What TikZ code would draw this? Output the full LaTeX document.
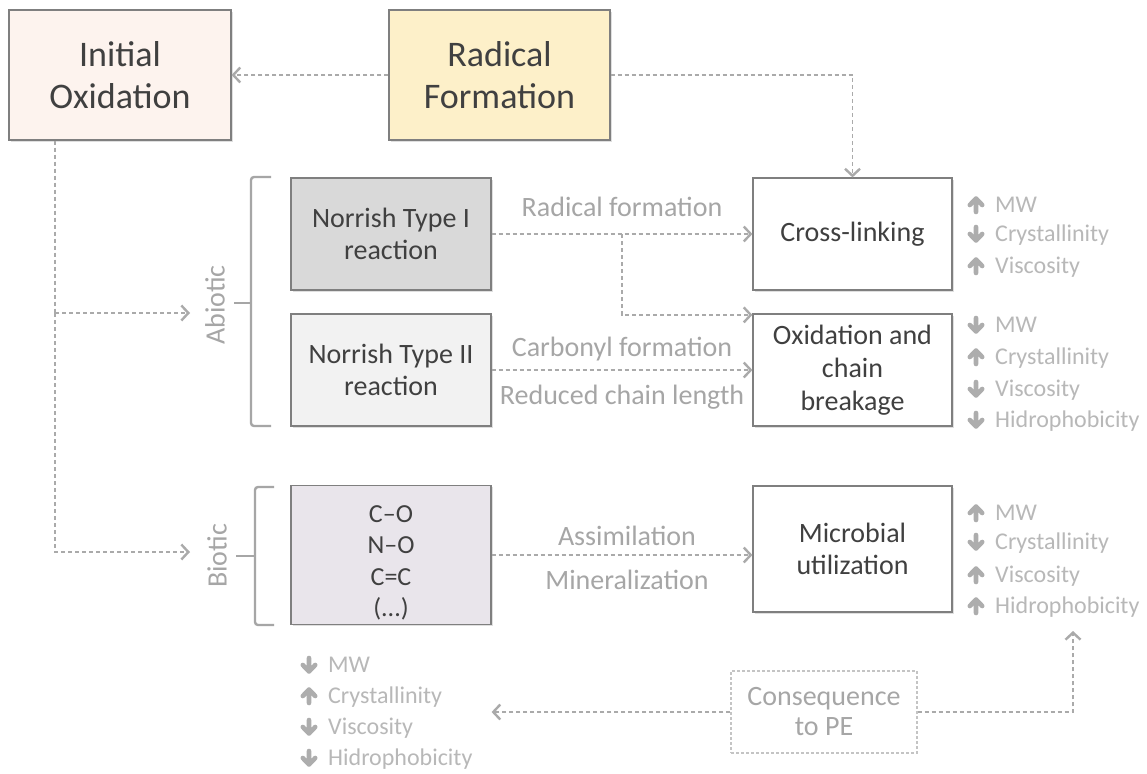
\documentclass[tikz,border=0pt]{standalone}
\usepackage{fontspec}
\setmainfont{Carlito}
\usetikzlibrary{arrows.meta,shadows}

\definecolor{boxline}{HTML}{7F7F7F}
\definecolor{boxtext}{HTML}{404040}
\definecolor{linkgray}{HTML}{AAAAAA}
\definecolor{labelgray}{HTML}{A6A6A6}
\definecolor{propgray}{HTML}{B8B8B8}
\definecolor{arrgray}{HTML}{ADADAD}
\definecolor{conseqline}{HTML}{C4C4C4}
\definecolor{oxfill}{HTML}{FDF3EE}
\definecolor{radfill}{HTML}{FDF0C9}
\definecolor{nIfill}{HTML}{D9D9D9}
\definecolor{nIIfill}{HTML}{F2F2F2}
\definecolor{biofill}{HTML}{E9E5EB}

\tikzset{
  box/.style={draw=boxline, line width=1.2pt, text=boxtext, align=center,
    inner sep=0pt, font=\fontsize{28}{32}\selectfont,
    drop shadow={shadow xshift=1.8pt, shadow yshift=-1.8pt, opacity=0.25}},
  bigbox/.style={box, font=\fontsize{36}{42}\selectfont},
  link/.style={draw=linkgray, line width=1.3pt, dash pattern=on 4pt off 3pt,
    -{Straight Barb[length=7pt, width=15pt, line width=2.4pt]}},
  linkline/.style={draw=linkgray, line width=1.3pt, dash pattern=on 4pt off 3pt},
  lbl/.style={text=labelgray, font=\fontsize{28}{32}\selectfont, inner sep=0pt},
  brace/.style={draw=labelgray, line width=2.4pt, rounded corners=3pt},
  prop/.style={anchor=west, inner sep=0pt, text=propgray,
    font=\fontsize{24}{28}\selectfont, text height=15.5pt, text depth=0pt},
  uparr/.pic={\draw[arrgray, line width=4.6pt, line cap=round, line join=round]
    (0,7) -- (0,-5) (-6.2,0) -- (0,-6.5) -- (6.2,0);},
  dnarr/.pic={\draw[arrgray, line width=4.6pt, line cap=round, line join=round]
    (0,-7) -- (0,5) (-6.2,0) -- (0,6.5) -- (6.2,0);},
}

% one line of a property list: name, arrow x, text x, y, arrow pic, text
\newcommand\propline[6]{%
  \pic at (#2,#4) {#5};
  \node[prop] (#1) at (#3,#4) {#6};}

\begin{document}
\begin{tikzpicture}[x=1pt, y=-1pt]
  \fill[white] (0,0) rectangle (1147,773);
  \useasboundingbox (0,0) rectangle (1147,773);

  % top row
  \node[bigbox, fill=oxfill, minimum width=222pt, minimum height=130pt]
    (init) at (120,75) {Initial\\Oxidation};
  \node[bigbox, fill=radfill, minimum width=221pt, minimum height=130pt]
    (rad) at (499.5,75) {Radical\\Formation};

  % reaction boxes
  \node[box, fill=nIfill, minimum width=200pt, minimum height=112pt]
    (n1) at (391,234) {Norrish Type I\\reaction};
  \node[box, fill=nIIfill, minimum width=200pt, minimum height=112pt]
    (n2) at (391,370) {Norrish Type II\\reaction};
  \node[box, fill=biofill, minimum width=200pt, minimum height=139pt,
    font=\fontsize{26}{31.5}\selectfont]
    (bio) at (391,555) {\rule{0pt}{33pt}C--O\\N--O\\C=C\\(...)};

  % result boxes
  \node[box, fill=white, minimum width=199pt, minimum height=112pt]
    (cross) at (852.5,234) {Cross-linking};
  \node[box, fill=white, minimum width=199pt, minimum height=112pt,
    font=\fontsize{28}{33}\selectfont]
    (ox) at (852.5,370) {Oxidation and\\chain\\breakage};
  \node[box, fill=white, minimum width=199pt, minimum height=126pt]
    (mic) at (852.5,549) {Microbial\\utilization};

  % consequence box
  \node[draw=conseqline, line width=1.2pt, dash pattern=on 3pt off 2pt,
    text=labelgray, align=center, inner sep=0pt,
    font=\fontsize{28}{30}\selectfont,
    minimum width=186pt, minimum height=82pt]
    (cons) at (824,712) {Consequence\\to PE};

  % group labels and braces
  \node[lbl, rotate=90] (abiotic) at (215,305) {Abiotic};
  \node[lbl, rotate=90] (biotic) at (217,556) {Biotic};
  \draw[brace] (271,177) -- (251,177) -- (251,426) -- (271,426);
  \draw[brace] (251,303) -- (234,303);
  \draw[brace] (274,487) -- (255,487) -- (255,625) -- (274,625);
  \draw[brace] (255,556) -- (236,556);

  % connectors
  \coordinate (abin) at (190,313);
  \coordinate (bioin) at (190,552);
  \coordinate (micprop) at (1073,631);
  \coordinate (split) at (55,313);

  \draw[link] (rad.west) -- (init.east);
  \draw[link] (rad.east) -| (cross.north);
  \draw[linkline] ([xshift=-65pt]init.south) -- (split);
  \draw[link] (split) -- (abin);
  \draw[link] (split) |- (bioin);

  \draw[link] (n1.east) -- coordinate[pos=0.5] (mid1) (cross.west);
  \draw[link] (mid1) |- ([yshift=-1.5pt]ox.north west);
  \draw[link] (n2.east) -- (ox.west);
  \draw[link] (bio.east) -- (bio.east -| mic.west);
  \draw[link] (cons.west) -- (cons.west -| bio.east);
  \draw[link] (cons.east) -| (micprop);

  % connector labels
  \node[lbl] (l1) at (622,207) {Radical formation};
  \node[lbl] (l2) at (622,349) {Carbonyl formation};
  \node[lbl] (l3) at (622,397) {Reduced chain length};
  \node[lbl] (l4) at (627,536) {Assimilation};
  \node[lbl] (l5) at (627,580) {Mineralization};

  % property lists
  \propline{p1}{976}{995}{205}{uparr}{MW}
  \propline{p2}{976}{995}{234}{dnarr}{Crystallinity}
  \propline{p3}{976}{995}{266}{uparr}{Viscosity}

  \propline{p4}{976}{995}{325}{dnarr}{MW}
  \propline{p5}{976}{995}{357}{uparr}{Crystallinity}
  \propline{p6}{976}{995}{389}{dnarr}{Viscosity}
  \propline{p7}{976}{995}{420}{dnarr}{Hidrophobicity}

  \propline{p8}{976}{995}{513}{uparr}{MW}
  \propline{p9}{976}{995}{542}{dnarr}{Crystallinity}
  \propline{p10}{976}{995}{575}{uparr}{Viscosity}
  \propline{p11}{976}{995}{606}{uparr}{Hidrophobicity}

  \propline{p12}{309}{328}{665}{dnarr}{MW}
  \propline{p13}{309}{328}{696}{uparr}{Crystallinity}
  \propline{p14}{309}{328}{727}{dnarr}{Viscosity}
  \propline{p15}{309}{328}{758}{dnarr}{Hidrophobicity}
\end{tikzpicture}
\end{document}
